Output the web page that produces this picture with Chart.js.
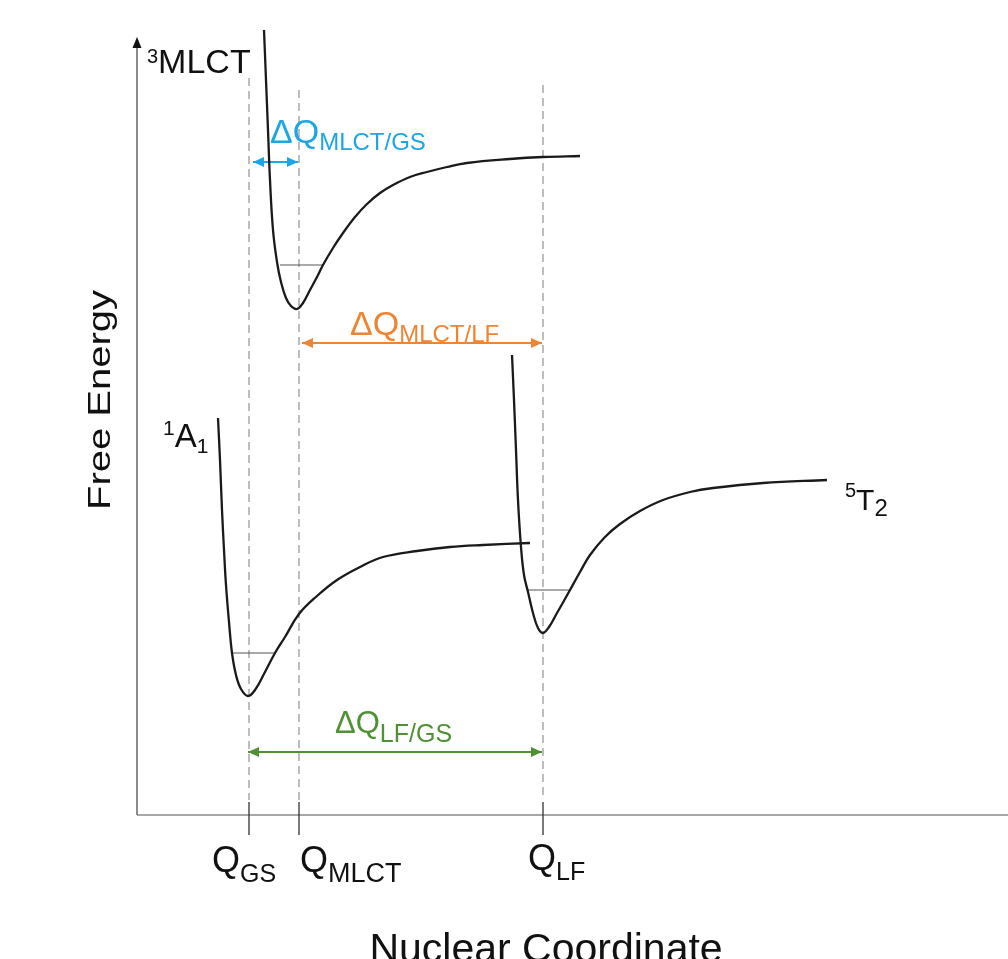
<!DOCTYPE html>
<html>
<head>
<meta charset="utf-8">
<script src="https://cdn.jsdelivr.net/npm/chart.js@4.4.1/dist/chart.umd.min.js"></script>
<style>
  html, body { margin: 0; padding: 0; background: #fff; }
  #wrap { width: 1008px; height: 959px; position: relative; }
</style>
</head>
<body>
<div id="wrap"><canvas id="chart"></canvas></div>
<script>
// Potential energy curves, x = nuclear coordinate, y = free energy (arbitrary units)
const mlctCurve = [
  [127,785],[129,735],[131,685],[133,635],[136,585],[140,553],[144,533],[149,517],
  [154,509],[160,506],[166,512],[173,525],[180,538],[186,550],[196,567],[206,582],
  [218,598],[230,611],[243,622],[256,630],[273,638],[290,643],[310,648],[330,652],
  [373,656],[406,658],[443,659]
];
const a1Curve = [
  [81,397],[83,355],[85,305],[87,265],[89,230],[92,193],[95,162],[99,140],[104,126],
  [111,119],[118,125],[128,143],[138,162],[148,178],[162,201],[180,219],
  [200,235],[223,248],[246,258],[280,264],[313,268],[346,270],[393,272]
];
const t2Curve = [
  [375,460],[377,415],[379,365],[381,315],[384,268],[387,240],[391,223],[396,202],
  [401,187],[406,182],[412,188],[420,202],[428,216],[433,225],[443,243],[453,260],
  [468,278],[483,291],[503,304],[526,315],[553,323],[576,327],[626,332],[690,335]
];

// lowest vibrational levels: [xLeft, xRight, energy]
const levels = [[143,186,550],[95,138,162],[391,433,225]];

// equilibrium coordinates Q_GS, Q_MLCT, Q_LF
const qValues = [112, 162, 406];
const qTops = [737, 725, 730];
const qNames = ['GS', 'MLCT', 'LF'];

// displacement arrows: [x1, x2, energy]
const arrowMlctGs = [116, 161, 653];
const arrowMlctLf = [165, 405, 472];
const arrowLfGs = [111, 405, 63];

const X_MAX = 871, Y_MAX = 815, Y_AXIS_TOP = 778;

const BLUE = '#1DA5E6', ORANGE = '#EF8433', GREEN = '#509135';
const FONT = '"Liberation Sans", Arial, Helvetica, sans-serif';

const pts = arr => arr.map(p => ({x: p[0], y: p[1]}));

const datasets = [];
[mlctCurve, a1Curve, t2Curve].forEach(c => {
  datasets.push({
    data: pts(c), borderColor: '#1a1a1a', borderWidth: 2.3,
    tension: 0.4, order: 0
  });
});
levels.forEach(l => {
  datasets.push({
    data: [{x: l[0], y: l[2]}, {x: l[1], y: l[2]}],
    borderColor: '#555', borderWidth: 1, order: 1
  });
});
qValues.forEach((q, i) => {
  datasets.push({
    data: [{x: q, y: qTops[i]}, {x: q, y: 15}],
    borderColor: '#bdbdbd', borderWidth: 2, borderDash: [8, 5], order: 5
  });
  // tick mark on the axis
  datasets.push({
    data: [{x: q, y: 13}, {x: q, y: -20}],
    borderColor: '#333', borderWidth: 1.3, order: 2
  });
});
[[arrowMlctGs, BLUE], [arrowMlctLf, ORANGE], [arrowLfGs, GREEN]].forEach(([a, col]) => {
  datasets.push({
    data: [{x: a[0], y: a[2]}, {x: a[1], y: a[2]}],
    borderColor: col, borderWidth: 2, order: 1, arrow: true
  });
});
// axes
datasets.push({data: [{x: 0, y: 0}, {x: 0, y: Y_AXIS_TOP - 8}], borderColor: '#666', borderWidth: 1.5, order: 3});
datasets.push({data: [{x: 0, y: 0}, {x: X_MAX, y: 0}], borderColor: '#8a8a8a', borderWidth: 1.5, order: 3});

// text labels: anchor in data units, parts = [text, fontSize, baseline offset]
const textLabels = [
  {x: 10, y: 742, color: '#111', parts: [['3', 20, -10], ['MLCT', 34, 0]]},
  {x: 26, y: 368, color: '#111', parts: [['1', 21, -12], ['A', 33, 0], ['1', 21, 6]]},
  {x: 708, y: 305, color: '#111', parts: [['5', 20, -13], ['T', 30, 0], ['2', 24, 6]]},
  {x: 133, y: 672, color: BLUE, parts: [['ΔQ', 34, 0], ['MLCT/GS', 24, 7]]},
  {x: 213, y: 480, color: ORANGE, parts: [['ΔQ', 34, 0], ['MLCT/LF', 24, 7]]},
  {x: 198, y: 82, color: GREEN, parts: [['ΔQ', 31, 0], ['LF/GS', 25, 9]]},
  {x: 75, y: -57, color: '#111', parts: [['Q', 36, 0], ['GS', 25, 10]]},
  {x: 163, y: -57, color: '#111', parts: [['Q', 36, 0], ['MLCT', 27, 10]]},
  {x: 391, y: -55, color: '#111', parts: [['Q', 36, 0], ['LF', 25, 10]]}
];

const drawPlugin = {
  id: 'diagramExtras',
  afterDatasetsDraw(chart) {
    const ctx = chart.ctx;
    const xs = chart.scales.x, ys = chart.scales.y;
    const px = v => xs.getPixelForValue(v), py = v => ys.getPixelForValue(v);

    ctx.save();
    // arrow heads on displacement arrows
    chart.data.datasets.forEach(ds => {
      if (!ds.arrow) return;
      const y = py(ds.data[0].y);
      const x1 = px(ds.data[0].x), x2 = px(ds.data[1].x);
      ctx.fillStyle = ds.borderColor;
      [[x1, 1], [x2, -1]].forEach(([x, dir]) => {
        ctx.beginPath();
        ctx.moveTo(x, y);
        ctx.lineTo(x + dir * 11, y - 5);
        ctx.lineTo(x + dir * 11, y + 5);
        ctx.closePath();
        ctx.fill();
      });
    });

    // y axis arrow head
    const ax = px(0), at = py(Y_AXIS_TOP);
    ctx.fillStyle = '#111';
    ctx.beginPath();
    ctx.moveTo(ax, at);
    ctx.lineTo(ax - 4.5, at + 11);
    ctx.lineTo(ax + 4.5, at + 11);
    ctx.closePath();
    ctx.fill();

    // labels with super/subscripts
    ctx.textBaseline = 'alphabetic';
    ctx.textAlign = 'left';
    textLabels.forEach(l => {
      let x = px(l.x);
      const y = py(l.y);
      ctx.fillStyle = l.color;
      l.parts.forEach(([t, size, dy]) => {
        ctx.font = size + 'px ' + FONT;
        ctx.fillText(t, x, y + dy);
        x += ctx.measureText(t).width;
      });
    });

    // axis titles
    ctx.fillStyle = '#111';
    ctx.font = '32px ' + FONT;
    const fe = 'Free Energy';
    const feW = ctx.measureText(fe).width;
    ctx.save();
    ctx.translate(px(-27), py(415));
    ctx.rotate(-Math.PI / 2);
    ctx.scale(220 / feW, 1);
    ctx.textAlign = 'center';
    ctx.fillText(fe, 0, 0);
    ctx.restore();

    ctx.font = '41px ' + FONT;
    ctx.textAlign = 'center';
    ctx.fillText('Nuclear Coordinate', px(409), py(-147));
    ctx.restore();
  }
};

new Chart(document.getElementById('chart'), {
  type: 'scatter',
  data: {datasets: datasets.map(d => Object.assign({showLine: true, pointRadius: 0, clip: false, fill: false}, d))},
  options: {
    responsive: true,
    maintainAspectRatio: false,
    animation: false,
    layout: {padding: {left: 137, right: 0, top: 0, bottom: 144}},
    scales: {
      x: {type: 'linear', display: false, min: 0, max: X_MAX},
      y: {type: 'linear', display: false, min: 0, max: Y_MAX}
    },
    plugins: {legend: {display: false}, tooltip: {enabled: false}}
  },
  plugins: [drawPlugin]
});
</script>
</body>
</html>
